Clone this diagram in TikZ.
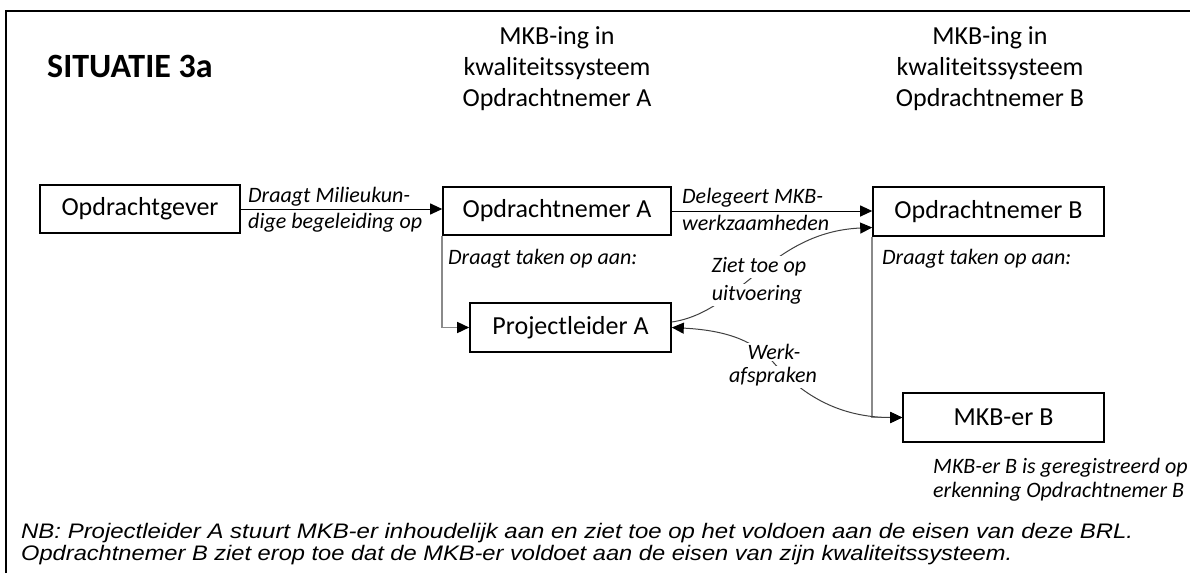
\documentclass[tikz,border=0pt]{standalone}
\usepackage{fontspec}
\setmainfont{Carlito}
\newfontfamily\arialfont{Liberation Sans}
\usetikzlibrary{arrows.meta}
\definecolor{glinecol}{HTML}{8A8A8A}
\definecolor{clinecol}{HTML}{404040}
\begin{document}
\begin{tikzpicture}[x=1pt,y=-1pt,
  >={Triangle[length=12pt,width=11pt,color=black]},
  box/.style={draw, line width=1.6pt, inner sep=0pt, font=\fontsize{26}{31}\selectfont},
  lbl/.style={inner sep=0pt, font=\fontsize{22}{26}\selectfont\itshape},
  wlbl/.style={inner sep=1.5pt, fill=white, font=\fontsize{22}{26}\selectfont\itshape},
  hdr/.style={align=center, inner sep=0pt, font=\fontsize{26}{31}\selectfont},
  arr/.style={line width=1pt, ->},
  garr/.style={draw=glinecol, line width=1.5pt, ->},
  carr/.style={draw=clinecol, line width=1pt},
  note/.style={inner sep=0pt, anchor=base west, font=\arialfont\itshape\fontsize{21}{21}\selectfont}]
\useasboundingbox (0,0) rectangle (1190,573);
\fill[white] (0,0) rectangle (1190,573);
% frame
\draw[line width=1.6pt] (6,573) -- (6,11) -- (1190,11);
% title and headers
\node[inner sep=0pt, anchor=west, font=\fontsize{34}{40}\selectfont\bfseries] (title) at (47,66) {SITUATIE 3a};
\node[hdr] (hdrA) at (557,69) {MKB-ing in\\kwaliteitssysteem\\Opdrachtnemer A};
\node[hdr] (hdrB) at (990,69) {MKB-ing in\\kwaliteitssysteem\\Opdrachtnemer B};
% boxes
\node[box, minimum width=200pt, minimum height=48pt] (og) at (140,209) {Opdrachtgever};
\node[box, minimum width=228pt, minimum height=48pt] (oa) at (557,211) {Opdrachtnemer A};
\node[box, minimum width=231pt, minimum height=49pt] (ob) at (988.5,211.5) {Opdrachtnemer B};
\node[box, minimum width=201pt, minimum height=49pt] (pa) at (570.5,327.5) {Projectleider A};
\node[box, minimum width=201pt, minimum height=49pt] (mb) at (1003.5,417.5) {MKB-er B};
% main arrows
\draw[arr] (og.east) -- (og.east -| oa.west);
\draw[arr] (oa.east) -- (oa.east -| ob.west);
\node[lbl, anchor=west] (l1a) at (248,197) {Draagt Milieukun-};
\node[lbl, anchor=west] (l1b) at (248,223) {dige begeleiding op};
\node[lbl, anchor=west] (l2a) at (682,198) {Delegeert MKB-};
\node[lbl, anchor=west] (l2b) at (682,223) {werkzaamheden};
% gray task lines
\draw[garr] (oa.south west) |- (pa.west);
\draw[garr] (ob.south west) |- (mb.west);
\node[lbl, anchor=west] (ltA) at (448,259) {Draagt taken op aan:};
\node[lbl, anchor=west] (ltB) at (882,259) {Draagt taken op aan:};
% curved connectors
\coordinate (zs) at ([yshift=5.5pt]pa.east);
\coordinate (ze) at ([yshift=-16pt]ob.west);
\draw[carr, ->] (zs) .. controls (740,312) and (770,232) .. (ze);
\draw[carr, <->] (pa.east) .. controls (720,330) and (752,338) .. (773,362)
  .. controls (794,386) and (830,417.5) .. (mb.west);
\node[wlbl] (z1) at (759,267) {Ziet toe op};
\node[wlbl] (z2) at (757,295) {uitvoering};
\node[wlbl] (w1) at (774,352) {Werk-};
\node[wlbl] (w2) at (773,377) {afspraken};
% note under MKB-er B
\node[lbl, anchor=west] (n1) at (933,468) {MKB-er B is geregistreerd op};
\node[lbl, anchor=west] (n2) at (933,492) {erkenning Opdrachtnemer B};
% NB lines
\node[note] (nb1) at (21,538) {\resizebox{1112pt}{\height}{NB: Projectleider A stuurt MKB-er inhoudelijk aan en ziet toe op het voldoen aan de eisen van deze BRL.}};
\node[note] (nb2) at (21,560) {\resizebox{991pt}{\height}{Opdrachtnemer B ziet erop toe dat de MKB-er voldoet aan de eisen van zijn kwaliteitssysteem.}};
\end{tikzpicture}
\end{document}
